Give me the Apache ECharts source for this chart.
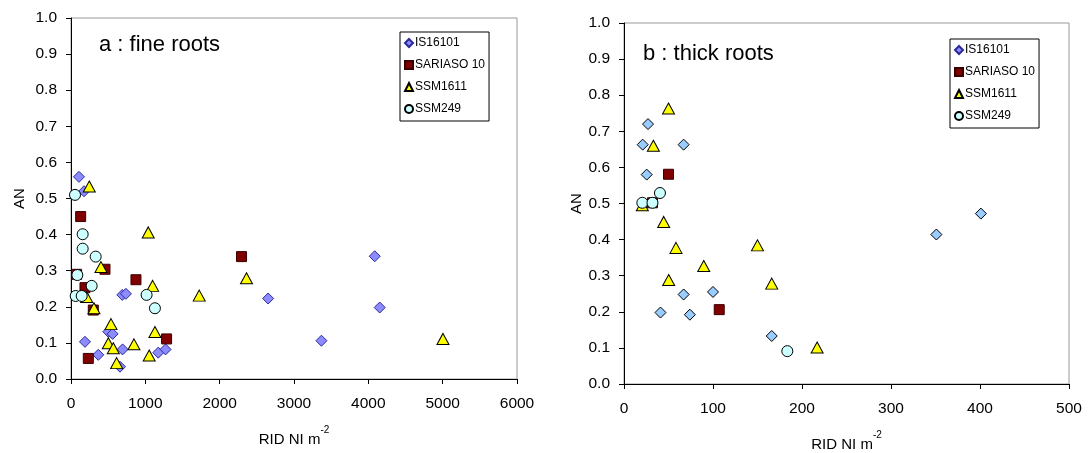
<!DOCTYPE html>
<html><head><meta charset="utf-8">
<script src="https://cdn.jsdelivr.net/npm/echarts@6/dist/echarts.min.js"></script>
<style>html,body{margin:0;padding:0;background:#fff}#c{width:1088px;height:453px}</style>
</head><body><div id="c"></div>
<script>
// Panel a : fine roots  [RID, AN]
const fineIS16101 = [[107,0.56],[175,0.52],[188,0.103],[367,0.067],[502,0.131],[560,0.125],[694,0.082],[659,0.034],[690,0.233],[739,0.236],[1174,0.073],[1272,0.082],[2652,0.223],[4086,0.34],[4153,0.198],[3369,0.106]];
const fineSARIASO = [[130,0.45],[76,0.29],[457,0.304],[188,0.253],[300,0.191],[233,0.057],[874,0.275],[2294,0.339],[1286,0.111]];
const fineSSM1611 = [[246,0.533],[1039,0.406],[403,0.31],[1098,0.258],[2361,0.279],[1725,0.231],[211,0.227],[309,0.196],[538,0.152],[1129,0.13],[502,0.099],[569,0.085],[847,0.096],[1052,0.065],[614,0.044],[5004,0.111]];
const fineSSM249 = [[54,0.51],[157,0.401],[157,0.361],[332,0.339],[85,0.288],[278,0.258],[63,0.23],[144,0.23],[1017,0.233],[1129,0.196]];
// Panel b : thick roots
const thickIS16101 = [[27,0.72],[21,0.663],[67,0.663],[25.5,0.58],[67,0.248],[41,0.198],[74,0.192],[100,0.255],[166,0.133],[401,0.472],[351,0.414]];
const thickSARIASO = [[50,0.581],[32,0.502],[107,0.206]];
const thickSSM1611 = [[50,0.763],[33,0.66],[20.6,0.495],[44.6,0.449],[58.4,0.377],[89.6,0.327],[50.2,0.288],[150,0.384],[166,0.278],[217,0.101]];
const thickSSM249 = [[20.6,0.502],[32,0.502],[40.4,0.529],[183.5,0.091]];

const seriesNames = ['IS16101','SARIASO 10','SSM1611','SSM249'];
const xTicksA = [0,1000,2000,3000,4000,5000,6000];
const xTicksB = [0,100,200,300,400,500];

const FONT = 'Liberation Sans, Arial, sans-serif';
const LF = 15.5;
const styles = {
  'IS16101': {symbol:'diamond', size:[11,11]},
  'SARIASO 10': {symbol:'rect', size:[10,10], color:'#800000', border:'#3a0000'},
  'SSM1611': {symbol:'triangle', size:[12,11], color:'#FFFF00', border:'#000'},
  'SSM249': {symbol:'circle', size:[11,11], color:'#CCFFFF', border:'#000'}
};

function xAxis(gi, ticks){
  const interval = ticks[1]-ticks[0];
  return {type:'value', gridIndex:gi, min:ticks[0], max:ticks[ticks.length-1], interval:interval,
    name:'{a|RID NI m}{b|-2}', nameLocation:'middle', nameGap:46,
    nameTextStyle:{rich:{a:{fontFamily:FONT,fontSize:15,color:'#000',verticalAlign:'bottom'},b:{fontFamily:FONT,fontSize:10,color:'#000',verticalAlign:'top',padding:[0,0,12,0]}}},
    axisLine:{show:true,onZero:false,lineStyle:{color:'#000',width:1}},
    axisTick:{show:true,length:5,inside:false,lineStyle:{color:'#000'}},
    axisLabel:{fontFamily:FONT,fontSize:LF,color:'#000',margin:17,formatter:v=>String(v)},
    splitLine:{show:false}};
}
function yAxis(gi, gap){
  return {type:'value', gridIndex:gi, min:0, max:1, interval:0.1,
    name:'AN', nameLocation:'middle', nameGap:gap,
    nameTextStyle:{fontFamily:FONT,fontSize:15,color:'#000'},
    axisLine:{show:true,onZero:false,lineStyle:{color:'#000',width:1}},
    axisTick:{show:true,length:5,lineStyle:{color:'#000'}},
    axisLabel:{fontFamily:FONT,fontSize:LF,color:'#000',margin:14,formatter:v=>v.toFixed(1)},
    splitLine:{show:false}};
}
function mk(name, data, gi, diaColor, diaBorder){
  const s = styles[name];
  const color = s.color || diaColor;
  const border = s.border || diaBorder;
  return {type:'scatter', name:name, xAxisIndex:gi, yAxisIndex:gi, data:data,
    symbol:s.symbol, symbolSize:s.size,
    itemStyle:{color:color, borderColor:border, borderWidth:1, opacity:1},
    emphasis:{disabled:true}};
}
function legend(left, top){
  return {orient:'vertical', left:left, top:top, itemGap:10,
    backgroundColor:'#fff', borderColor:'#000', borderWidth:1, padding:[5,4,6,4],
    itemWidth:8, itemHeight:8, selectedMode:false,
    textStyle:{fontFamily:FONT,fontSize:12,color:'#000',padding:[0,0,0,-3]},
    data:seriesNames};
}
const chart = echarts.init(document.getElementById('c'), null, {renderer:'canvas'});
chart.setOption({
  animation:false,
  backgroundColor:'#fff',
  title:[
    {text:'a : fine roots', left:94, top:29, textStyle:{fontFamily:FONT,fontSize:22,fontWeight:'normal',color:'#000'}},
    {text:'b : thick roots', left:638, top:38, textStyle:{fontFamily:FONT,fontSize:22,fontWeight:'normal',color:'#000'}}
  ],
  grid:[
    {left:71, top:18, width:446, height:361, show:true, borderColor:'#999', borderWidth:1, containLabel:false, outerBoundsMode:'none'},
    {left:624, top:23, width:445, height:361, show:true, borderColor:'#999', borderWidth:1, containLabel:false, outerBoundsMode:'none'}
  ],
  legend:[legend(400,32), legend(950,39)],
  xAxis:[xAxis(0,xTicksA), xAxis(1,xTicksB)],
  yAxis:[yAxis(0,44), yAxis(1,40)],
  series:[
    mk('IS16101', fineIS16101, 0, '#8C8CFF', '#2B2B99'),
    mk('SARIASO 10', fineSARIASO, 0),
    mk('SSM1611', fineSSM1611, 0),
    mk('SSM249', fineSSM249, 0),
    mk('IS16101', thickIS16101, 1, '#99CCFF', '#000'),
    mk('SARIASO 10', thickSARIASO, 1),
    mk('SSM1611', thickSSM1611, 1),
    mk('SSM249', thickSSM249, 1)
  ]
});
</script></body></html>
